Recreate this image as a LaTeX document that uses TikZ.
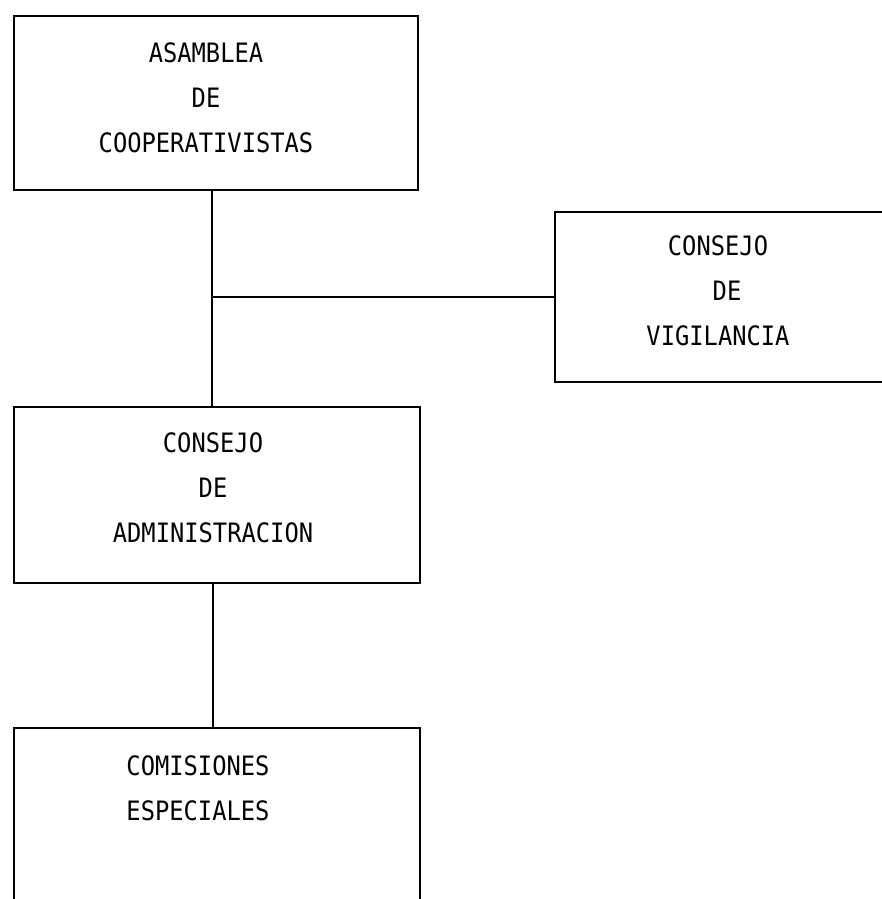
\documentclass[tikz,border=0pt]{standalone}
\usepackage{fontspec}
\newfontfamily\maquina[FakeStretch=0.89]{DejaVu Sans Mono}
\usepackage{tikz}
\usetikzlibrary{positioning}

\tikzset{
	caja/.style={draw, line width=2.6pt, inner sep=0pt},
	texto/.style={align=center, inner sep=0pt, font=\maquina\fontsize{26.7pt}{45pt}\selectfont},
	linea/.style={line width=2.6pt}
}

\begin{document}
\begin{tikzpicture}[x=1pt,y=-1pt]
		% Page frame
		\useasboundingbox (0,0) rectangle (882,899);
		\clip (0,0) rectangle (882,899);
		
		% Boxes
		\node[caja, minimum width=404pt, minimum height=174pt] (asamblea) at (216,103) {};
		\node[caja, minimum width=331pt, minimum height=170pt] (vigilancia) at (720.5,297) {};
		\node[caja, minimum width=406pt, minimum height=176pt] (administracion) at (217,495) {};
		\node[caja, minimum width=406pt, minimum height=178pt] (comisiones) at (217,817) {};
		
		% Texts
		\node[texto] (asambleaT) at (206,98) {ASAMBLEA\\DE\\COOPERATIVISTAS};
		\node[texto] (vigilanciaT) at (718,291) {CONSEJO\\\hspace*{18pt}DE\\VIGILANCIA};
		\node[texto] (administracionT) at (213,488) {CONSEJO\\DE\\ADMINISTRACION};
		\node[texto] (comisionesT) at (198,788.5) {COMISIONES\\ESPECIALES};
		
		% Trunk of the chart
		\coordinate (tronco) at (212,0);
		\coordinate (rama) at (213,0);
		\draw[linea] (asamblea.south -| tronco) -- (administracion.north -| tronco);
		\draw[linea] (tronco |- vigilancia.west) -- (vigilancia.west);
		\draw[linea] (administracion.south -| rama) -- (comisiones.north -| rama);
	\end{tikzpicture}
\end{document}
